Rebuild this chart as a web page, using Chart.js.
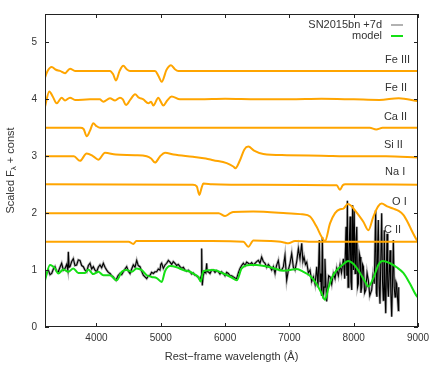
<!DOCTYPE html>
<html>
<head>
<meta charset="utf-8">
<script src="https://cdn.jsdelivr.net/npm/chart.js@4.4.1/dist/chart.umd.min.js"></script>
<style>
html,body{margin:0;padding:0;background:#fff;}
#wrap{width:436px;height:366px;position:relative;}
</style>
</head>
<body>
<div id="wrap"><canvas id="spec"></canvas></div>
<script>
/* ============ data: [wavelength (A), scaled flux] ============ */
const xTicks=[4000,5000,6000,7000,8000,9000];
const yTicks=[0,1,2,3,4,5];

const feIII=[[3200,4.38],[3240,4.5],[3304,4.57],[3370,4.52],[3433,4.5],[3511,4.46],[3589,4.54],[3667,4.5],[4210,4.5],[4260,4.44],[4304,4.33],[4360,4.5],[4418,4.59],[4470,4.53],[4522,4.5],[4911,4.5],[4960,4.42],[5015,4.31],[5090,4.52],[5160,4.6],[5220,4.53],[5273,4.5],[9000,4.5]];
const feII=[[3200,3.87],[3267,4.14],[3320,4.05],[3382,3.93],[3460,4.03],[3511,3.98],[3589,4.03],[3667,3.99],[3900,4.0],[4050,4.0],[4107,3.96],[4210,4.02],[4289,3.98],[4366,4.03],[4410,4.0],[4460,3.9],[4530,4.0],[4600,4.09],[4660,4.03],[4729,4.0],[4807,3.93],[4850,3.96],[4884,3.89],[4962,4.03],[5000,3.96],[5040,3.89],[5100,3.98],[5170,4.05],[5299,4.0],[5600,4.0],[6000,4.01],[6500,4.0],[7000,4.0],[7500,4.01],[8000,4.0],[8400,3.99],[8700,4.02],[9000,3.97]];
const caII=[[3200,3.5],[3750,3.5],[3800,3.48],[3848,3.35],[3900,3.45],[3951,3.58],[4000,3.53],[4055,3.5],[8250,3.5],[8350,3.47],[8450,3.5],[9000,3.5]];
const siII=[[3200,3.0],[3650,3.0],[3744,2.92],[3848,3.05],[3950,3.0],[4029,2.94],[4133,3.06],[4300,3.03],[4600,3.02],[4781,3.0],[4850,2.96],[4911,2.89],[4990,3.0],[5066,3.06],[5200,3.03],[5500,2.99],[5700,2.96],[5817,2.93],[6025,2.88],[6128,2.82],[6160,2.79],[6232,2.93],[6300,3.12],[6362,3.17],[6450,3.1],[6595,3.04],[6958,3.02],[7500,3.01],[8000,3.0],[8500,3.0],[9000,2.98]];
const naI=[[3200,2.51],[5500,2.5],[5560,2.47],[5600,2.32],[5636,2.45],[5662,2.52],[5800,2.51],[6500,2.5],[7736,2.49],[7787,2.41],[7830,2.49],[7870,2.51],[9000,2.5]];
const oI=[[3200,2.0],[5900,2.0],[6000,1.95],[6080,2.0],[6128,2.02],[6435,2.03],[6958,2.0],[7200,1.98],[7321,1.94],[7424,1.76],[7503,1.58],[7554,1.51],[7632,1.82],[7710,2.0],[7788,2.07],[7840,2.08],[7907,2.16],[7960,2.13],[8020,2.05],[8150,1.85],[8228,1.7],[8306,1.94],[8380,2.12],[8435,2.17],[8520,2.12],[8616,2.08],[8700,2.04],[8772,1.97],[8850,1.82],[8900,1.7],[8980,1.53],[9000,1.5]];
const cII=[[3200,1.5],[4500,1.5],[4573,1.46],[4620,1.51],[5000,1.51],[5800,1.51],[6285,1.5],[6362,1.41],[6440,1.52],[6700,1.51],[6900,1.49],[6984,1.47],[7088,1.51],[7300,1.5],[9000,1.5]];

const model=[[3200,0.82],[3278,1.09],[3355,1.03],[3407,0.94],[3485,1.01],[3563,0.97],[3640,1.03],[3718,0.95],[3822,0.95],[3873,1.01],[3951,0.93],[4029,0.97],[4107,0.91],[4210,0.91],[4315,0.82],[4393,0.97],[4471,1.0],[4549,0.97],[4626,1.03],[4704,1.0],[4781,0.91],[4859,0.88],[4937,0.86],[5015,0.79],[5066,0.98],[5144,1.07],[5248,1.05],[5351,1.0],[5455,0.97],[5533,0.92],[5584,0.88],[5622,0.8],[5662,0.98],[5817,1.0],[5973,0.94],[6103,0.87],[6181,0.82],[6259,1.03],[6388,1.09],[6492,1.09],[6700,1.05],[6906,0.99],[7010,1.0],[7114,1.02],[7217,0.97],[7321,0.9],[7425,0.75],[7503,0.59],[7554,0.48],[7606,0.68],[7658,0.86],[7736,1.0],[7814,1.08],[7917,1.16],[7994,1.11],[8098,0.95],[8176,0.8],[8228,0.71],[8306,0.86],[8383,1.09],[8450,1.16],[8565,1.12],[8668,1.05],[8772,0.95],[8876,0.76],[8970,0.56],[9000,0.52]];

const observed=[[3200,0.88],[3226,0.95],[3252,1.0],[3278,0.92],[3304,0.94],[3330,1.02],[3355,1.06],[3380,0.98],[3407,0.97],[3433,1.05],[3459,1.12],[3485,1.0],[3511,1.03],[3537,1.1],[3555,1.0],[3563,1.32],[3575,1.05],[3589,1.06],[3615,1.15],[3640,1.2],[3666,1.08],[3692,1.09],[3718,1.18],[3744,1.17],[3770,1.08],[3796,1.06],[3822,1.0],[3848,0.97],[3874,1.08],[3900,1.12],[3926,1.02],[3951,1.06],[3977,1.0],[4003,0.97],[4029,1.05],[4055,1.09],[4081,1.04],[4107,1.12],[4133,1.05],[4159,1.0],[4185,0.96],[4211,0.94],[4237,0.9],[4262,0.88],[4285,0.84],[4304,0.82],[4335,0.9],[4366,0.94],[4392,0.92],[4418,0.97],[4444,1.02],[4470,1.06],[4496,0.98],[4522,0.94],[4548,1.02],[4573,1.09],[4600,1.05],[4626,1.17],[4650,1.08],[4677,1.06],[4703,0.98],[4729,0.91],[4755,0.88],[4781,0.85],[4807,0.9],[4833,0.91],[4858,0.96],[4884,0.94],[4910,0.97],[4936,0.97],[4962,1.02],[4988,1.0],[5000,1.1],[5014,1.12],[5040,1.03],[5066,1.09],[5092,1.12],[5118,1.17],[5144,1.14],[5170,1.1],[5195,1.15],[5221,1.12],[5247,1.08],[5273,1.1],[5299,1.06],[5325,1.03],[5351,1.05],[5377,1.0],[5403,0.98],[5429,1.0],[5455,0.97],[5480,0.93],[5506,0.95],[5532,0.91],[5558,0.9],[5584,0.87],[5610,0.83],[5630,0.9],[5636,1.38],[5642,0.95],[5646,0.73],[5660,0.9],[5677,0.97],[5700,0.95],[5714,1.12],[5722,0.97],[5740,0.97],[5766,0.94],[5792,1.0],[5818,1.0],[5844,0.96],[5870,0.99],[5895,0.97],[5921,0.93],[5947,0.97],[5973,0.94],[5999,0.9],[6025,0.96],[6051,0.94],[6077,0.9],[6103,0.9],[6128,0.88],[6154,0.86],[6180,0.85],[6206,0.95],[6232,1.03],[6258,1.08],[6284,1.12],[6310,1.08],[6336,1.14],[6362,1.12],[6388,1.1],[6414,1.13],[6440,1.09],[6466,1.12],[6492,1.15],[6517,1.17],[6543,1.12],[6569,1.23],[6595,1.15],[6621,1.12],[6647,1.05],[6673,1.1],[6699,1.06],[6725,1.0],[6751,1.06],[6777,0.94],[6800,1.08],[6828,1.17],[6850,1.0],[6880,1.0],[6907,1.06],[6932,1.26],[6958,0.82],[6984,1.0],[7010,1.12],[7036,1.29],[7062,1.05],[7088,1.0],[7114,1.15],[7140,1.38],[7165,1.2],[7192,1.47],[7210,1.15],[7228,1.23],[7250,1.1],[7270,1.14],[7295,0.95],[7321,1.0],[7347,0.8],[7373,0.88],[7400,0.75],[7425,1.06],[7445,0.7],[7466,1.53],[7477,0.8],[7487,0.94],[7500,0.55],[7513,1.58],[7527,0.5],[7540,0.7],[7553,1.2],[7566,0.82],[7580,0.45],[7592,0.65],[7610,0.9],[7632,0.88],[7658,0.75],[7684,0.94],[7710,0.85],[7736,1.03],[7762,0.9],[7788,1.09],[7810,0.95],[7840,1.2],[7860,0.85],[7881,1.76],[7893,0.9],[7902,2.22],[7912,0.7],[7924,0.94],[7935,1.6],[7944,1.94],[7957,0.8],[7970,0.65],[7983,2.14],[7996,1.0],[8008,2.05],[8021,0.94],[8035,1.5],[8048,1.76],[8060,0.7],[8073,0.76],[8086,1.3],[8099,1.23],[8112,0.6],[8125,0.7],[8138,1.1],[8151,1.06],[8170,0.6],[8188,0.65],[8208,0.95],[8228,0.82],[8250,0.55],[8280,0.65],[8300,0.9],[8320,0.76],[8342,2.05],[8352,0.6],[8362,0.53],[8372,1.4],[8383,1.88],[8396,0.7],[8409,0.41],[8422,1.2],[8435,2.0],[8448,0.8],[8461,0.47],[8470,1.1],[8476,1.7],[8488,0.6],[8498,0.24],[8508,0.9],[8518,1.64],[8530,0.7],[8540,0.53],[8552,0.9],[8565,1.35],[8578,0.6],[8591,0.18],[8604,0.8],[8617,1.53],[8630,0.7],[8643,0.53],[8656,0.8],[8669,0.76],[8682,0.5],[8695,0.29],[8700,0.7]];

// ion labels: name, anchor wavelength, anchor flux
const ionNames=['Fe III','Fe II','Ca II','Si II','Na I','O I','C II'];
const ionX=[8487,8487,8470,8470,8487,8596,8470];
const ionY=[4.70,4.20,3.69,3.20,2.72,2.20,1.71];

/* ============ styles ============ */
const INK='#333';
const ORANGE='#ffa500';
const GREEN='#15e015';
const FONT="'Liberation Sans', Arial, Helvetica, sans-serif";
Chart.defaults.font.family=FONT;
Chart.defaults.color=INK;

const pts=a=>a.map(([x,y])=>({x,y}));
const ion=d=>({data:pts(d),borderColor:ORANGE,borderWidth:2,pointRadius:0,cubicInterpolationMode:'monotone',order:2});

/* frame, inward ticks, labels, legend, y title */
const decor={id:'decor',afterDatasetsDraw(ch){
  const{ctx,chartArea:a,scales:{x,y}}=ch;
  ctx.save();
  ctx.strokeStyle='#222';ctx.lineWidth=1;
  ctx.strokeRect(a.left+.5,a.top+.5,a.right-a.left-1,a.bottom-a.top-1);
  ctx.beginPath();
  xTicks.forEach(v=>{
    const px=Math.round(x.getPixelForValue(v))+.5;
    ctx.moveTo(px,a.bottom);ctx.lineTo(px,a.bottom-4);
    ctx.moveTo(px,a.top);ctx.lineTo(px,a.top+4);
  });
  yTicks.forEach(v=>{
    const py=Math.round(y.getPixelForValue(v))+.5;
    ctx.moveTo(a.left,py);ctx.lineTo(a.left+4,py);
    ctx.moveTo(a.right,py);ctx.lineTo(a.right-4,py);
  });
  ctx.stroke();
  // ion names
  ctx.fillStyle=INK;ctx.font='11px '+FONT;ctx.textAlign='left';ctx.textBaseline='middle';
  ionNames.forEach((n,i)=>ctx.fillText(n,x.getPixelForValue(ionX[i]),y.getPixelForValue(ionY[i])));
  // legend, gnuplot style: text right, sample to its right
  const lx=a.right-36,ly=a.top+11;
  ctx.textAlign='right';
  ctx.fillText('SN2015bn +7d',lx,ly);
  ctx.fillText('model',lx,ly+11);
  ctx.lineWidth=1.5;ctx.strokeStyle='#999';
  ctx.beginPath();ctx.moveTo(lx+9,ly);ctx.lineTo(lx+21,ly);ctx.stroke();
  ctx.lineWidth=2;ctx.strokeStyle=GREEN;
  ctx.beginPath();ctx.moveTo(lx+9,ly+11);ctx.lineTo(lx+21,ly+11);ctx.stroke();
  // y title with subscript lambda
  ctx.translate(11,(a.top+a.bottom)/2);
  ctx.rotate(-Math.PI/2);
  ctx.textAlign='left';
  ctx.font='11px '+FONT;
  const t1='Scaled F',t3=' + const';
  const w1=ctx.measureText(t1).width,w3=ctx.measureText(t3).width;
  ctx.font='8px '+FONT;const w2=ctx.measureText('\u03bb').width;
  let sx=-(w1+w2+w3)/2;
  ctx.font='11px '+FONT;ctx.fillText(t1,sx,0);
  ctx.font='8px '+FONT;ctx.fillText('\u03bb',sx+w1,3);
  ctx.font='11px '+FONT;ctx.fillText(t3,sx+w1+w2,0);
  ctx.restore();
}};

new Chart(document.getElementById('spec'),{type:'line',
  data:{datasets:[
    {label:'model',data:pts(model),borderColor:GREEN,borderWidth:2,pointRadius:0,cubicInterpolationMode:'monotone',order:1},
    ion(feIII),ion(feII),ion(caII),ion(siII),ion(naI),ion(oI),ion(cII),
    {label:'SN2015bn +7d',data:pts(observed),borderColor:'#000',borderWidth:1.1,pointRadius:0,tension:0,order:3},
    {label:'halo',data:pts(observed),borderColor:'rgba(0,0,0,0.3)',borderWidth:2.6,pointRadius:0,tension:0,order:4}
  ]},
  options:{responsive:true,maintainAspectRatio:false,animation:false,events:[],
    layout:{padding:{top:13,right:18,left:0,bottom:0}},
    plugins:{legend:{display:false},tooltip:{enabled:false}},
    scales:{
      x:{type:'linear',min:3200,max:9000,
        afterBuildTicks:s=>{s.ticks=xTicks.map(v=>({value:v}));},
        afterFit:s=>{s.height=39;},
        grid:{display:false,drawTicks:false},border:{display:false},
        ticks:{padding:5,font:{size:10},color:INK,callback:v=>v},
        title:{display:true,text:'Rest\u2212frame wavelength (\u00c5)',font:{size:11},color:INK,padding:{top:0,bottom:2}}},
      y:{type:'linear',min:0,max:5.5,
        afterBuildTicks:s=>{s.ticks=yTicks.map(v=>({value:v}));},
        afterFit:s=>{s.width=45;},
        grid:{display:false,drawTicks:false},border:{display:false},
        ticks:{padding:8,font:{size:10},color:INK,callback:v=>v}}
    }},
  plugins:[decor]
});
</script>
</body>
</html>
